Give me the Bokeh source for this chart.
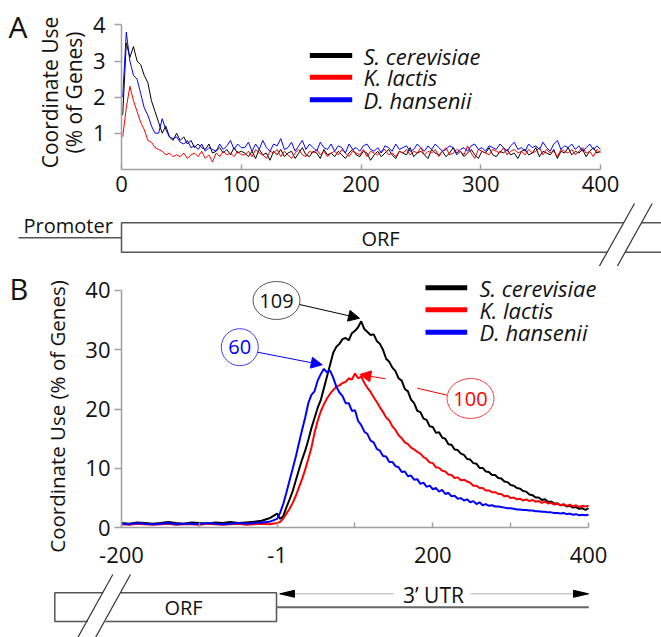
import math
from bokeh.plotting import figure
from bokeh.layouts import column
from bokeh.models import Range1d, FixedTicker, Arrow, NormalHead
from bokeh.core.properties import value
from bokeh.embed import file_html
from bokeh.resources import INLINE

FONT = "Open Sans"
SPECIES = ["S. cerevisiae", "K. lactis", "D. hansenii"]
COLORS = ["#000000", "#ff0000", "#0000ff"]
Y_TITLE_A = ["Coordinate Use", "(% of Genes)"]
Y_TITLE_B = "Coordinate Use (% of Genes)"

# ---------------- Panel A data (position in ORF, every 3 nt) ----------------
XA = list(range(1, 401, 3))
A_SC = [1.5, 3.5, 3.1, 3.4, 3.0, 2.9, 2.6, 2.4, 1.9, 1.6, 1.3, 1.0, 1.2, 0.9, 0.8, 1.0, 0.8,
        0.9, 0.7, 0.8, 0.6, 0.7, 0.6, 0.55, 0.7, 0.45, 0.5, 0.6, 0.45, 0.55, 0.4, 0.6, 0.45, 0.5,
        0.45, 0.35, 0.5, 0.3, 0.55, 0.4, 0.45, 0.25, 0.5, 0.4,
        0.55, 0.35, 0.45, 0.5, 0.3, 0.45, 0.6, 0.4, 0.35, 0.5,
        0.45, 0.3, 0.55, 0.4, 0.45, 0.35, 0.5, 0.4, 0.3, 0.45,
        0.55, 0.4, 0.35, 0.5, 0.45, 0.25, 0.4, 0.5, 0.35, 0.45,
        0.55, 0.4, 0.3, 0.5, 0.45, 0.4, 0.6, 0.35, 0.45, 0.5,
        0.4, 0.3, 0.55, 0.45, 0.4, 0.5, 0.35, 0.45, 0.6, 0.4,
        0.5, 0.35, 0.45, 0.55, 0.4, 0.3, 0.5, 0.45, 0.6, 0.4,
        0.35, 0.5, 0.45, 0.55, 0.4, 0.45, 0.3, 0.5, 0.55, 0.4,
        0.45, 0.6, 0.35, 0.5, 0.45, 0.4, 0.55, 0.3, 0.5, 0.45,
        0.6, 0.4, 0.5, 0.45, 0.55, 0.35, 0.5, 0.6, 0.45, 0.5]
A_KL = [0.9, 1.7, 2.3, 1.9, 1.6, 1.3, 1.1, 0.8, 0.75, 0.6, 0.55, 0.5, 0.4, 0.45, 0.35, 0.4, 0.35,
        0.45, 0.3, 0.4, 0.45, 0.35, 0.5, 0.3, 0.4, 0.2, 0.45, 0.35, 0.5, 0.4, 0.45, 0.35, 0.5, 0.4,
        0.4, 0.5, 0.35, 0.55, 0.45, 0.4, 0.3, 0.5, 0.45, 0.55,
        0.35, 0.5, 0.4, 0.3, 0.45, 0.55, 0.4, 0.35, 0.5, 0.45,
        0.55, 0.4, 0.5, 0.35, 0.45, 0.5, 0.4, 0.55, 0.45, 0.35,
        0.5, 0.45, 0.4, 0.55, 0.35, 0.5, 0.45, 0.4, 0.5, 0.55,
        0.4, 0.45, 0.35, 0.5, 0.45, 0.55, 0.4, 0.5, 0.45, 0.6,
        0.4, 0.5, 0.45, 0.55, 0.35, 0.5, 0.6, 0.4, 0.45, 0.55,
        0.5, 0.4, 0.65, 0.45, 0.3, 0.55, 0.5, 0.45, 0.4, 0.55,
        0.5, 0.45, 0.6, 0.4, 0.5, 0.55, 0.45, 0.5, 0.4, 0.55,
        0.45, 0.5, 0.6, 0.4, 0.55, 0.45, 0.5, 0.35, 0.55, 0.5,
        0.45, 0.55, 0.4, 0.5, 0.6, 0.45, 0.5, 0.35, 0.55, 0.45]
A_DH = [2.0, 3.8, 3.0, 2.6, 2.5, 2.1, 1.7, 1.5, 1.2, 1.0, 1.0, 1.4, 1.1, 0.9, 0.85, 0.9, 0.75,
        0.7, 0.8, 0.6, 0.65, 0.55, 0.7, 0.5, 0.6, 0.55, 0.5, 0.7, 0.55, 0.65, 0.8, 0.55, 0.7, 0.6,
        0.6, 0.75, 0.5, 0.7, 0.55, 0.8, 0.6, 0.5, 0.7, 0.65,
        0.85, 0.55, 0.6, 0.75, 0.5, 0.65, 0.8, 0.55, 0.7, 0.6,
        0.5, 0.75, 0.6, 0.55, 0.7, 0.5, 0.65, 0.6, 0.45, 0.7,
        0.55, 0.6, 0.5, 0.65, 0.7, 0.55, 0.5, 0.6, 0.45, 0.65,
        0.6, 0.5, 0.7, 0.55, 0.6, 0.65, 0.5, 0.55, 0.7, 0.6,
        0.5, 0.65, 0.55, 0.7, 0.6, 0.5, 0.55, 0.65, 0.6, 0.45,
        0.55, 0.6, 0.5, 0.65, 0.7, 0.55, 0.6, 0.5, 0.65, 0.6,
        0.55, 0.7, 0.6, 0.5, 0.65, 0.75, 0.55, 0.6, 0.5, 0.7,
        0.6, 0.65, 0.55, 0.75, 0.6, 0.5, 0.7, 0.8, 0.55, 0.65,
        0.6, 0.7, 0.55, 0.65, 0.5, 0.6, 0.7, 0.55, 0.65, 0.55]
XA_TICKS = [0, 100, 200, 300, 400]
YA_TICKS = [1, 2, 3, 4]

# ---------------- Panel B data (last 200 nt of ORF, then 3' UTR) ----------------
XB = list(range(-200, 0, 10)) + list(range(0, 401, 4))
B_SC = [0.8, 0.7, 0.9, 0.8, 0.7, 0.8, 1.0, 0.8, 0.7, 0.9, 0.8, 0.7, 0.9, 0.8, 1.0, 0.8, 0.9, 1.0, 1.2, 1.6,
        2.4, 1.5, 2.0, 3.5, 4.8, 6.2, 8.0, 9.8, 11.5, 13.0,
        14.8, 16.8, 18.5, 20.2, 21.5, 23.5, 25.5, 27.5, 29.5, 30.5,
        31.0, 31.8, 32.0, 31.6, 32.8, 33.2, 33.8, 34.8, 33.5, 33.0,
        32.5, 32.6, 31.5, 31.0, 30.0, 28.5, 28.0, 27.0, 26.4, 25.2,
        24.8, 23.4, 23.0, 21.6, 21.0, 19.7, 19.5, 18.4, 18.2, 17.1,
        17.0, 16.0, 16.1, 15.2, 15.0, 14.1, 14.0, 13.2, 13.1, 12.5,
        12.3, 11.6, 11.5, 10.9, 10.8, 10.1, 10.1, 9.5, 9.4, 8.9,
        8.9, 8.4, 8.3, 7.8, 7.7, 7.2, 7.1, 6.7, 6.6, 6.2,
        6.1, 5.6, 5.5, 5.1, 5.1, 4.7, 4.8, 4.4, 4.4, 4.1,
        4.1, 3.8, 3.9, 3.6, 3.7, 3.4, 3.5, 3.2, 3.3, 3.0,
        3.3]
B_KL = [0.6, 0.5, 0.7, 0.6, 0.5, 0.6, 0.7, 0.5, 0.6, 0.6, 0.5, 0.7, 0.6, 0.5, 0.6, 0.7, 0.5, 0.6, 0.7, 0.6,
        0.8, 1.0, 1.6, 2.4, 3.2, 4.2, 5.4, 6.8, 8.2, 9.8,
        11.6, 13.5, 16.0, 18.0, 19.6, 20.8, 21.8, 22.6, 23.2, 23.8,
        24.0, 24.4, 24.6, 25.2, 25.0, 26.0, 25.2, 25.5, 24.4, 23.6,
        22.9, 22.0, 21.2, 20.3, 19.5, 18.6, 18.1, 17.1, 16.5, 15.6,
        15.1, 14.4, 14.1, 13.5, 13.2, 12.8, 12.5, 11.9, 11.6, 11.0,
        10.9, 10.2, 10.1, 9.6, 9.5, 9.0, 8.9, 8.4, 8.5, 8.0,
        8.1, 7.8, 7.6, 7.1, 7.1, 6.7, 6.7, 6.3, 6.3, 6.0,
        6.0, 5.7, 5.7, 5.3, 5.4, 5.0, 5.1, 4.8, 4.9, 4.6,
        4.8, 4.5, 4.7, 4.4, 4.5, 4.2, 4.4, 4.1, 4.2, 3.9,
        4.1, 3.8, 4.0, 3.7, 3.9, 3.6, 3.8, 3.5, 3.7, 3.6,
        3.7]
B_DH = [0.7, 0.6, 0.8, 0.7, 0.6, 0.7, 0.8, 0.6, 0.7, 0.7, 0.6, 0.8, 0.7, 0.6, 0.7, 0.8, 0.7, 0.8, 0.9, 1.0,
        1.5, 2.6, 4.1, 6.0, 8.0, 10.0, 12.0, 14.3, 16.5, 18.6,
        21.0, 22.4, 23.0, 24.8, 25.9, 26.8, 26.2, 26.5, 25.3, 23.8,
        22.8, 22.2, 21.0, 21.0, 19.7, 19.8, 18.0, 17.3, 16.2, 15.8,
        14.7, 14.4, 13.3, 13.0, 12.1, 12.0, 11.1, 11.1, 10.4, 10.2,
        9.4, 9.5, 8.7, 8.8, 8.1, 8.2, 7.4, 7.6, 6.9, 7.1,
        6.5, 6.7, 6.1, 6.4, 5.7, 5.9, 5.3, 5.4, 4.9, 5.0,
        4.6, 4.8, 4.3, 4.5, 4.0, 4.3, 3.8, 4.0, 3.7, 3.8,
        3.6, 3.6, 3.5, 3.4, 3.3, 3.3, 3.2, 3.1, 3.1, 3.0,
        3.0, 2.9, 2.9, 2.8, 2.8, 2.7, 2.7, 2.6, 2.6, 2.5,
        2.5, 2.4, 2.5, 2.3, 2.4, 2.2, 2.3, 2.1, 2.2, 2.1,
        2.2]
XB_TICKS = [-200, -100, 0, 100, 200, 300, 400]
XB_LABELS = {-200: "-200", -100: "", 0: "-1", 100: "", 200: "200", 300: "", 400: "400"}
YB_TICKS = [0, 10, 20, 30, 40]
PEAK_LABELS = ["109", "100", "60"]

AXIS_GRAY = "#a0a0a0"
BOX_GRAY = "#555555"
INK = "#111111"
W = 661


# page-pixel -> data helpers (layout only, for decorations)
def ax(px): return (px - 121) / 1.1975
def ay(py): return (168.8 - py) / 36.1
def bx(px): return -200 + (px - 121) * 1.2848
def by(py): return (527.3 - py) / 5.933


def style_axes(p):
    p.grid.visible = False
    p.outline_line_color = None
    for a in p.axis:
        a.axis_line_color = AXIS_GRAY
        a.axis_line_width = 1.5
        a.major_tick_line_color = AXIS_GRAY
        a.major_tick_line_width = 1.5
        a.minor_tick_line_color = None
        a.major_label_text_font = FONT
        a.major_label_text_font_size = "22px"
        a.major_label_text_color = INK


def txt(p, x, y, s, size, align="left", color=INK, style="normal", angle=0.0):
    p.text(x=[x], y=[y], text=[s], text_font=value(FONT), text_font_size=value(size),
           text_align=align, text_baseline="middle", text_color=color,
           text_font_style=style, angle=angle)


# ================= Figure A (chart + gene diagram) =================
HA = 266
pa = figure(width=W, height=HA, x_range=Range1d(ax(0), ax(W)), y_range=Range1d(ay(HA), ay(0)),
            output_backend="svg", toolbar_location=None, min_border=0)
style_axes(pa)
pa.xaxis.fixed_location = 0
pa.xaxis.bounds = (0, 400)
pa.xaxis.ticker = FixedTicker(ticks=XA_TICKS)
pa.xaxis.major_tick_in = 5
pa.xaxis.major_tick_out = 0
pa.xaxis.major_label_standoff = 7
pa.yaxis.fixed_location = 0
pa.yaxis.bounds = (0, 4)
pa.yaxis.ticker = FixedTicker(ticks=YA_TICKS)
pa.yaxis.major_tick_in = 0
pa.yaxis.major_tick_out = 7
pa.yaxis.major_label_standoff = 9

for ys, c in zip([A_SC, A_KL, A_DH], COLORS):
    pa.line(XA, ys, line_color=c, line_width=1)

txt(pa, ax(49), ay(92), Y_TITLE_A[0], "21px", align="center", angle=math.pi / 2)
txt(pa, ax(73), ay(92), Y_TITLE_A[1], "21px", align="center", angle=math.pi / 2)

leg_a_y = [ay(55), ay(76.7), ay(99.3)]
pa.segment(x0=[ax(309.3)] * 3, y0=leg_a_y, x1=[ax(351.7)] * 3, y1=leg_a_y,
           line_color=COLORS, line_width=5)
for name, yy in zip(SPECIES, leg_a_y):
    txt(pa, ax(363), yy, name, "22px", style="italic")
txt(pa, ax(8), ay(26), "A", "30px")

# gene diagram A
pa.line([ax(18), ax(121)], [ay(237.3)] * 2, line_color=BOX_GRAY, line_width=1.5)
pa.line([ax(700), ax(121), ax(121), ax(700)], [ay(222.3), ay(222.3), ay(251.7), ay(251.7)],
        line_color=BOX_GRAY, line_width=1.5)
pa.patch([ax(634), ax(651.7), ax(615), ax(597)], [ay(203), ay(203), ay(269), ay(269)],
         fill_color="white", line_color=None)
pa.segment(x0=[ax(634), ax(651.7)], y0=[ay(203)] * 2, x1=[ax(597), ax(615)], y1=[ay(269)] * 2,
           line_color="#333333", line_width=1.2)
txt(pa, ax(23), ay(225), "Promoter", "20px")
txt(pa, ax(380), ay(238), "ORF", "20px", align="center")

# ================= Figure B (chart + gene diagram) =================
HB = 637 - HA
pb = figure(width=W, height=HB, x_range=Range1d(bx(0), bx(W)), y_range=Range1d(by(637), by(HA)),
            output_backend="svg", toolbar_location=None, min_border=0)
style_axes(pb)
pb.xaxis.fixed_location = 0
pb.xaxis.bounds = (-200, 400)
pb.xaxis.ticker = FixedTicker(ticks=XB_TICKS)
pb.xaxis.major_label_overrides = XB_LABELS
pb.xaxis.major_tick_in = 5
pb.xaxis.major_tick_out = 0
pb.xaxis.major_label_standoff = 19
pb.yaxis.fixed_location = -200
pb.yaxis.bounds = (0, 40)
pb.yaxis.ticker = FixedTicker(ticks=YB_TICKS)
pb.yaxis.major_tick_in = 0
pb.yaxis.major_tick_out = 7
pb.yaxis.major_label_standoff = 4

for ys, c in zip([B_SC, B_KL, B_DH], COLORS):
    pb.line(XB, ys, line_color=c, line_width=2)

txt(pb, bx(56), by(416), Y_TITLE_B, "20.5px", align="center", angle=math.pi / 2)

leg_b_y = [by(287.3), by(309.3), by(331.7)]
pb.segment(x0=[bx(425)] * 3, y0=leg_b_y, x1=[bx(466.7)] * 3, y1=leg_b_y,
           line_color=COLORS, line_width=5)
for name, yy in zip(SPECIES, leg_b_y):
    txt(pb, bx(479), yy, name, "22px", style="italic")
txt(pb, bx(9), by(288), "B", "29px")

# peak call-outs
pb.add_layout(Arrow(end=NormalHead(size=11, fill_color="black", line_color="black"),
                    x_start=bx(299), y_start=by(304), x_end=bx(359), y_end=by(317.7),
                    line_color="black", line_width=1))
pb.add_layout(Arrow(end=NormalHead(size=11, fill_color="#0000ff", line_color="#0000ff"),
                    x_start=bx(257), y_start=by(351.7), x_end=bx(321.7), y_end=by(364.3),
                    line_color="#0000ff", line_width=1))
pb.segment(x0=[bx(448)], y0=[by(395)], x1=[bx(416.7)], y1=[by(387.7)], line_color="#ff0000", line_width=1)
pb.add_layout(Arrow(end=NormalHead(size=11, fill_color="#ff0000", line_color="#ff0000"),
                    x_start=bx(385), y_start=by(378.3), x_end=bx(359.3), y_end=by(374),
                    line_color="#ff0000", line_width=1))
cx = [bx(276), bx(470), bx(239.3)]
cy = [by(300), by(398), by(346.7)]
pb.ellipse(x=cx, y=cy, width=[47, 47, 37], height=[38, 40, 37],
           width_units="screen", height_units="screen", fill_color="white",
           line_color=["#555555", "#ff4040", "#4040ff"], line_width=1)
pb.text(x=cx, y=cy, text=PEAK_LABELS, text_font=value(FONT), text_font_size=value("20px"),
        text_align="center", text_baseline="middle", text_color=[INK, "#ff0000", "#0000ff"])

# gene diagram B
pb.quad(left=[bx(54.3)], right=[bx(276)], top=[by(592.3)], bottom=[by(621)], fill_color="white",
        line_color=BOX_GRAY, line_width=1.5)
pb.patch([bx(112.3), bx(130), bx(95), bx(77.3)], [by(574), by(574), by(640), by(640)],
         fill_color="white", line_color=None)
pb.segment(x0=[bx(112.3), bx(130)], y0=[by(574)] * 2, x1=[bx(77.3), bx(95)], y1=[by(637)] * 2,
           line_color="#333333", line_width=1.2)
txt(pb, bx(183), by(607), "ORF", "20px", align="center")
pb.line([bx(276), bx(588.3)], [by(606.7)] * 2, line_color="#666666", line_width=2)
pb.segment(x0=[bx(279), bx(470)], y0=[by(593.3)] * 2, x1=[bx(393.3), bx(588)], y1=[by(593.3)] * 2,
           line_color="#b0b0b0", line_width=1)
pb.patches([[bx(279.3), bx(294), bx(294)], [bx(588), bx(573), bx(573)]],
           [[by(593.3), by(589.8), by(596.8)], [by(593.3), by(589.8), by(596.8)]],
           fill_color="black", line_color="black")
txt(pb, bx(433), by(594), "3\u2019 UTR", "21px", align="center")

layout = column(pa, pb, spacing=0)
open("out.html", "w").write(file_html(layout, INLINE))
